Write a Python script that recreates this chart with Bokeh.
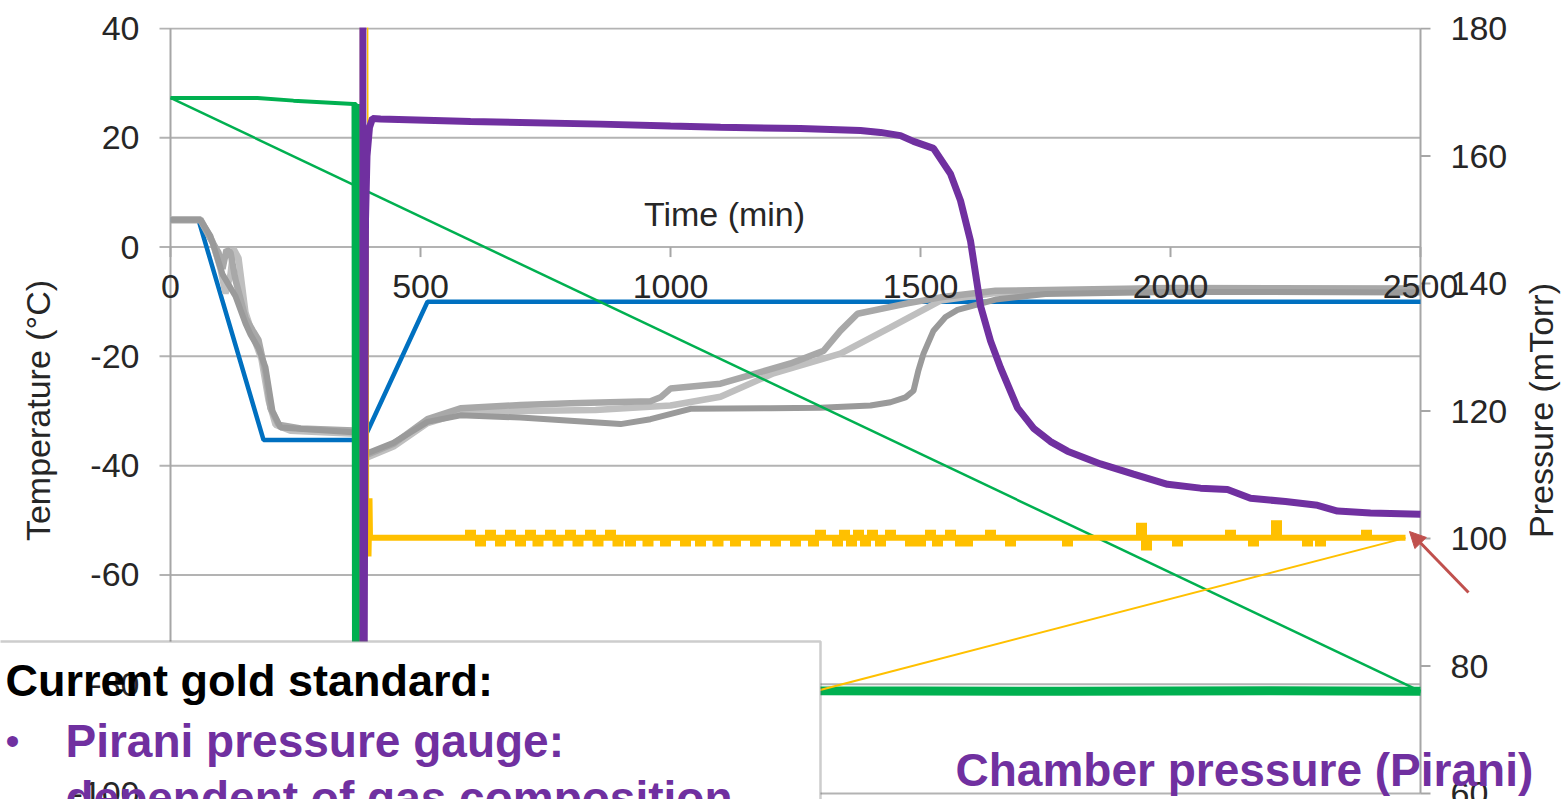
import math
from bokeh.plotting import figure
from bokeh.models import (Range1d, Label, LabelSet, BoxAnnotation, Arrow, NormalHead, ColumnDataSource)
from bokeh.core.properties import value
from bokeh.embed import file_html
from bokeh.resources import INLINE

# ---------------- data ----------------
time_ticks = [0, 500, 1000, 1500, 2000, 2500]
temp_ticks = [-100, -80, -60, -40, -20, 0, 20, 40]
pres_ticks = [60, 80, 100, 120, 140, 160, 180]

# shelf temperature (blue, °C)
shelf_t = [0, 56, 186, 386, 514, 2500]
shelf_v = [5.0, 5.0, -35.3, -35.3, -10.0, -10.0]

# product thermocouples (grey, °C)
tc1_t = [0, 60, 80, 96, 104, 112, 120, 130, 150, 166, 176, 190, 200, 216, 260, 380, 386, 446, 514, 580,
         700, 800, 960, 980, 1000, 1100, 1240, 1306, 1340, 1374, 1474, 1540, 1650, 2000, 2500]
tc1_v = [4.9, 4.9, 1.5, -1.0, -4.0, -0.5, -1.0, -6.0, -13.0, -15.5, -17.0, -23.0, -29.5, -32.5, -33.2,
         -33.6, -38.3, -36.0, -31.5, -29.5, -28.9, -28.6, -28.2, -27.5, -25.9, -25.0, -21.3, -19.0,
         -15.3, -12.2, -10.3, -9.2, -8.0, -7.5, -7.6]
tc2_t = [0, 60, 84, 100, 110, 120, 126, 136, 150, 170, 182, 196, 210, 240, 380, 386, 446, 514, 580,
         700, 850, 1000, 1100, 1206, 1340, 1440, 1540, 1650, 2000, 2500]
tc2_v = [5.1, 5.1, 1.0, -4.0, -8.5, -5.0, -0.3, -2.0, -12.0, -17.5, -20.5, -28.0, -32.5, -33.6, -34.2,
         -38.8, -36.5, -32.2, -30.4, -30.0, -29.8, -29.0, -27.4, -23.1, -19.5, -14.7, -9.8, -8.4, -7.9, -8.0]
tc3_t = [0, 60, 80, 104, 130, 150, 160, 176, 190, 204, 220, 380, 386, 446, 514, 580, 700, 800, 900,
         960, 1040, 1200, 1300, 1400, 1440, 1470, 1486, 1496, 1506, 1526, 1550, 1574, 1650, 1750, 2000, 2500]
tc3_v = [5.0, 5.0, 2.0, -5.0, -9.0, -14.0, -16.0, -18.5, -22.0, -30.0, -33.0, -34.0, -38.0, -35.8,
         -32.0, -30.8, -31.2, -31.8, -32.4, -31.5, -29.6, -29.5, -29.4, -29.0, -28.4, -27.5, -26.3,
         -22.5, -19.5, -15.3, -12.8, -11.5, -9.6, -8.6, -8.2, -8.3]

# condenser temperature (green, °C)
cond_t = [0, 174, 246, 366, 371, 372, 700, 1300, 1800, 2200, 2500]
cond_v = [27.3, 27.3, 26.8, 26.2, 26.2, -81.1, -81.0, -81.2, -81.3, -81.2, -81.3]

# chamber pressure, Pirani (purple, mTorr)
pirani_t = [384, 385, 390, 393, 398, 404, 420, 600, 860, 1000, 1100, 1260, 1380, 1420, 1460, 1486,
            1526, 1560, 1580, 1600, 1620, 1640, 1660, 1694, 1726, 1760, 1794, 1860, 1926, 1994,
            2060, 2114, 2160, 2230, 2294, 2334, 2400, 2500]
pirani_v = [900, 20, 150, 160, 164.5, 165.9, 165.8, 165.4, 165.0, 164.7, 164.5, 164.3, 164.0, 163.7,
            163.2, 162.3, 161.2, 157.2, 153.0, 146.7, 136.5, 131.0, 126.8, 120.5, 117.3, 115.2,
            113.7, 111.7, 110.1, 108.5, 107.9, 107.7, 106.3, 105.8, 105.2, 104.3, 104.0, 103.8]

# chamber pressure, capacitance manometer (yellow, mTorr)
cm_start_t = [380, 381, 396, 398, 399]
cm_start_v = [57.5, 800, 97.2, 106.3, 100.1]
cm_level = 100.1
cm_events_t = [600, 620, 640, 660, 680, 700, 720, 735, 760, 775, 800, 815, 840, 855, 880, 895, 920,
               955, 990, 1030, 1060, 1095, 1130, 1170, 1210, 1250, 1286, 1300, 1334, 1348, 1362,
               1376, 1390, 1404, 1420, 1440, 1480, 1500, 1520, 1534, 1560, 1580, 1594, 1640, 1680,
               1794, 1942, 1952, 2014, 2120, 2166, 2212, 2274, 2300, 2392]
cm_events_v = [100.9, 99.2, 100.9, 99.2, 100.9, 99.2, 100.9, 99.2, 100.9, 99.2, 100.9, 99.2, 100.9,
               99.2, 100.9, 99.2, 99.2, 99.2, 99.2, 99.2, 99.2, 99.2, 99.2, 99.2, 99.2, 99.2, 99.2,
               100.9, 99.2, 100.9, 99.2, 100.9, 99.2, 100.9, 99.2, 100.9, 99.2, 99.2, 100.9, 99.2,
               100.9, 99.2, 99.2, 100.9, 99.2, 99.2, 102.0, 98.6, 99.2, 100.9, 99.2, 102.4, 99.2,
               99.2, 100.9]
cm_end_t = 2470

# build yellow series: flat level with brief excursions at the read event times
cm_t = list(cm_start_t)
cm_v = list(cm_start_v)
for et, ev in zip(cm_events_t, cm_events_v):
    cm_t += [et - 5, et - 5, et + 5, et + 5]
    cm_v += [cm_level, ev, ev, cm_level]
cm_t.append(cm_end_t)
cm_v.append(cm_level)

# ---------------- layout constants (pixels of the slide) ----------------
W, H = 1562, 799
FL, FR, FT, FB = 170, 1420, 28, 793      # plot area inside the canvas
X0, X1 = 0, 2500
T0, T1 = -100, 40
P0, P1 = 60, 180


def sx(px):
    return X0 + (px - FL) * (X1 - X0) / (FR - FL)


def sy(py):
    return T1 - (py - FT) * (T1 - T0) / (FB - FT)


def syp(py):
    return P1 - (py - FT) * (P1 - P0) / (FB - FT)


FONT = "Liberation Sans"
GRID = "#B3B3B3"
AXC = "#A6A6A6"
TXT = "#262626"
PURPLE = "#7030A0"
GREEN = "#00B050"
BLUE = "#0070C0"
YELLOW = "#FFC000"
FS = "34px"

p = figure(width=W, height=H, output_backend="svg", toolbar_location=None,
           x_range=Range1d(sx(0), sx(W)), y_range=Range1d(sy(H), sy(0)),
           x_axis_location=None, y_axis_location=None,
           min_border_left=0, min_border_right=0, min_border_top=0, min_border_bottom=0)
p.extra_y_ranges = {"p": Range1d(syp(H), syp(0))}
p.outline_line_color = None
p.grid.visible = False
p.background_fill_color = "white"
p.border_fill_color = "white"

# ---------------- axes (drawn through the scales) ----------------
nT = len(temp_ticks)
nP = len(pres_ticks)
nX = len(time_ticks)
# horizontal gridlines, extended left as the outside ticks of the temperature axis
p.segment(x0=[sx(FL - 11)] * nT, x1=[X1] * nT, y0=temp_ticks, y1=temp_ticks, line_color=GRID, line_width=2)
# axis lines
p.segment(x0=[X0], x1=[X0], y0=[T0], y1=[T1], line_color=AXC, line_width=2)
p.segment(x0=[X1], x1=[X1], y0=[P0], y1=[P1], line_color=AXC, line_width=2, y_range_name="p")
# pressure ticks (outside, right)
p.segment(x0=[X1] * nP, x1=[sx(FR + 10)] * nP, y0=pres_ticks, y1=pres_ticks, line_color=AXC,
          line_width=2, y_range_name="p")
# time axis crosses at 0 °C, ticks downward
tick_len = 10 * (T1 - T0) / (FB - FT)
p.segment(x0=time_ticks, y0=[0] * nX, x1=time_ticks, y1=[-tick_len] * nX, line_color=AXC, line_width=2)

# ---------------- series ----------------
p.line(shelf_t, shelf_v, line_color=BLUE, line_width=4.5)
p.line(tc2_t, tc2_v, line_color="#BFBFBF", line_width=6.5)
p.line(tc1_t, tc1_v, line_color="#A8A8A8", line_width=6.5)
p.line(tc3_t, tc3_v, line_color="#9A9A9A", line_width=6)

p.line(cond_t, cond_v, line_color=GREEN, line_width=4)
p.line(cond_t[4:], cond_v[4:], line_color=GREEN, line_width=9)
p.line([cond_t[0], cond_t[-1]], [cond_v[0], cond_v[-1]], line_color=GREEN, line_width=2.5)

p.line(cm_t[:3], cm_v[:3], line_color=YELLOW, line_width=1.5, y_range_name="p")
p.line(cm_t[2:], cm_v[2:], line_color=YELLOW, line_width=6, line_join="miter", y_range_name="p")
p.line([cm_t[-1], cm_t[0]], [cm_v[-1], cm_v[0]], line_color=YELLOW, line_width=2, y_range_name="p")

p.line(pirani_t, pirani_v, line_color=PURPLE, line_width=7, y_range_name="p")

# the plot area ends at 40 °C: blank the slide margin above it (drawn over the series, under the texts)
p.quad(left=[sx(FL - 12)], right=[sx(FR + 12)], bottom=[sy(FT - 1)], top=[sy(-40)],
       fill_color="white", line_color=None, level="annotation")

# ---------------- text box of the slide ----------------
p.add_layout(BoxAnnotation(left=sx(-5), right=sx(820), top=sy(641), bottom=sy(880),
                           fill_color="white", fill_alpha=1.0, line_color="#595959", line_width=2.5))

# ---------------- tick labels and axis titles ----------------
p.add_layout(LabelSet(x="x", y="y", text="t",
                      source=ColumnDataSource(dict(x=[X0] * nT, y=temp_ticks, t=[str(t) for t in temp_ticks])),
                      text_align="right", text_baseline="middle", x_offset=-31,
                      text_font=value(FONT), text_font_size=value(FS), text_color=value(TXT)))
p.add_layout(LabelSet(x="x", y="y", text="t", y_range_name="p",
                      source=ColumnDataSource(dict(x=[X1] * nP, y=pres_ticks, t=[str(t) for t in pres_ticks])),
                      text_align="left", text_baseline="middle", x_offset=30,
                      text_font=value(FONT), text_font_size=value(FS), text_color=value(TXT)))
p.add_layout(LabelSet(x="x", y="y", text="t",
                      source=ColumnDataSource(dict(x=time_ticks, y=[0] * nX, t=[str(t) for t in time_ticks])),
                      text_align="center", text_baseline="top", y_offset=-28,
                      text_font=value(FONT), text_font_size=value(FS), text_color=value(TXT)))
p.add_layout(Label(x=sx(724), y=0, text="Time (min)", text_align="center", text_baseline="alphabetic",
                   y_offset=33, text_font=FONT, text_font_size=FS, text_color=TXT))
p.add_layout(Label(x=sx(37), y=sy(410), text="Temperature (°C)", angle=math.pi / 2,
                   text_align="center", text_baseline="middle",
                   text_font=FONT, text_font_size=FS, text_color=TXT))
p.add_layout(Label(x=sx(1540), y=sy(410), text="Pressure (mTorr)", angle=math.pi / 2,
                   text_align="center", text_baseline="middle",
                   text_font=FONT, text_font_size=FS, text_color=TXT))

# ---------------- slide texts ----------------
p.add_layout(Label(x=sx(5), y=sy(680), text="Current gold standard:", text_baseline="alphabetic",
                   text_font=FONT, text_font_style="bold", text_font_size="45px", text_color="black"))
p.add_layout(Label(x=sx(5), y=sy(740), text="•", text_baseline="alphabetic",
                   text_font=FONT, text_font_size="40px", text_color=PURPLE))
p.add_layout(Label(x=sx(65), y=sy(740), text="Pirani pressure gauge:", text_baseline="alphabetic",
                   text_font=FONT, text_font_style="bold", text_font_size="46px", text_color=PURPLE))
p.add_layout(Label(x=sx(65), y=sy(797), text="dependent of gas composition", text_baseline="alphabetic",
                   text_font=FONT, text_font_style="bold", text_font_size="46px", text_color=PURPLE))
p.add_layout(Label(x=sx(955), y=sy(769), text="Chamber pressure (Pirani)", text_baseline="alphabetic",
                   text_font=FONT, text_font_style="bold", text_font_size="46px", text_color=PURPLE))

p.add_layout(Arrow(end=NormalHead(size=16, fill_color="#C0504D", line_color="#C0504D"),
                   x_start=sx(1468), y_start=syp(592), x_end=sx(1409), y_end=syp(531),
                   y_range_name="p", line_color="#C0504D", line_width=3))

open("out.html", "w").write(file_html(p, INLINE))
